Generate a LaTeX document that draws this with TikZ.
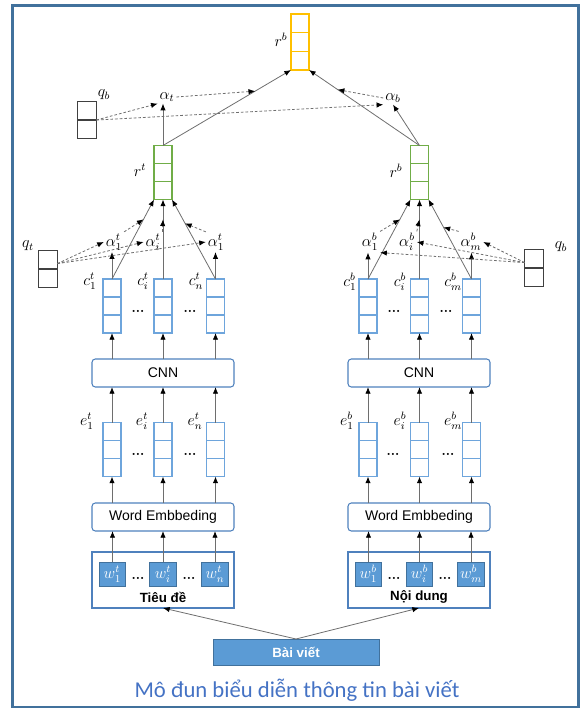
\documentclass[tikz,border=0pt]{standalone}
\usepackage{amsmath}
\usepackage{fontspec}
\setsansfont{Liberation Sans}
\newfontfamily\capfont{Carlito}
\usetikzlibrary{arrows.meta,calc}

\definecolor{framecol}{RGB}{65,113,156}
\definecolor{layerblue}{RGB}{79,129,189}
\definecolor{vecblue}{RGB}{110,165,220}
\definecolor{wfill}{RGB}{91,155,213}
\definecolor{wedge}{RGB}{65,113,156}
\definecolor{grncol}{RGB}{112,173,71}
\definecolor{yelcol}{RGB}{255,192,0}
\definecolor{qgray}{RGB}{64,64,64}
\definecolor{linegray}{RGB}{110,110,110}
\definecolor{capblue}{RGB}{68,114,196}

\begin{document}
\begin{tikzpicture}[x=0.75pt, y=-0.75pt,
    every node/.style={inner sep=0pt, outer sep=0pt},
    vecbox/.style={draw=#1, line width=0.8pt, minimum width=13.5pt, minimum height=40.5pt,
        path picture={
            \draw[#1, line width=0.8pt]
              ($(path picture bounding box.north west)!1/3!(path picture bounding box.south west)$) --
              ($(path picture bounding box.north east)!1/3!(path picture bounding box.south east)$)
              ($(path picture bounding box.north west)!2/3!(path picture bounding box.south west)$) --
              ($(path picture bounding box.north east)!2/3!(path picture bounding box.south east)$);}},
    qbox/.style={draw=qgray, line width=0.8pt, minimum width=14pt, minimum height=27.75pt,
        path picture={\draw[qgray, line width=0.8pt] (path picture bounding box.west) -- (path picture bounding box.east);}},
    layer/.style={draw=layerblue, line width=0.8pt, rounded corners=2.5pt, minimum width=106.5pt,
        minimum height=21pt, font=\sffamily\fontsize{10.5}{12}\selectfont},
    wbox/.style={draw=wedge, fill=wfill, line width=0.6pt, minimum width=20pt, minimum height=18pt,
        text=white, font=\large},
    lbl/.style={inner sep=1.5pt, font=\large},
    ellip/.style={font=\bfseries},
    arr/.style={draw=linegray, line width=0.6pt, -{Latex[length=5pt,width=4pt,color=black]}},
    att/.style={arr, dash pattern=on 2pt off 1.5pt}
]
\useasboundingbox (0,0) rectangle (580,709);
\draw[framecol, line width=1.6pt] (12.5,5.5) rectangle (578.5,707);

% output vector and article attention
\node[vecbox=yelcol, minimum height=42pt] (rtop) at (300,42) {};
\node[lbl] (rtoplbl) at (281,40) {$r^b$};
\node[qbox] (qbtop) at (87,120) {};
\node[lbl] (qbtoplbl) at (104,95) {$q_b$};
\node[lbl] (at) at (167,97) {$\alpha_t$};
\node[lbl] (ab) at (393,98) {$\alpha_b$};

\node[vecbox=grncol] (rt) at (163,172.5) {};
\node[lbl] (rtlbl) at (140,170) {$r^t$};
\node[vecbox=grncol] (rb) at (419.5,172.5) {};
\node[lbl] (rblbl) at (396,171) {$r^b$};

\draw[arr] (rt.north) -- coordinate[pos=.72] (htl) (rtop.south west);
\draw[arr] (rb.north) -- coordinate[pos=.74] (htr) (rtop.south east);
\draw[arr] (rt.north) -- (rt.north |- at.south);
\draw[arr] (rb.north) -- (ab.south);
\draw[att] (qbtop.east) -- (at.south west);
\draw[att] (qbtop.east) -- (ab.south west);
\draw[att] (at.east) -- (htl);
\draw[att] (ab.west) -- (htr);

% title side
\node[qbox] (qt) at (48,269) {};
\node[lbl] (qtlbl) at (28,246) {$q_t$};
\node[lbl] (a1t) at (114,242) {$\alpha_1^t$};
\node[lbl] (ait) at (153,242) {$\alpha_i^t$};
\node[lbl] (ant) at (216,242) {$\alpha_1^t$};

\node[vecbox=vecblue] (c1t) at (112,306) {};
\node[vecbox=vecblue] (cit) at (163,306) {};
\node[vecbox=vecblue] (cnt) at (215.5,306) {};
\node[lbl] (c1tlbl) at (90,281) {$c_1^t$};
\node[lbl] (citlbl) at (143,281) {$c_i^t$};
\node[lbl] (cntlbl) at (196,281) {$c_n^t$};
\node[ellip] (d1t) at (138,311) {...};
\node[ellip] (d2t) at (190,311) {...};

\draw[arr] (c1t.north) -- coordinate[pos=.75] (h1t) (rt.south west);
\draw[arr] (cit.north) -- coordinate[pos=.75] (hit) (rt.south);
\draw[arr] (cnt.north) -- coordinate[pos=.7] (hnt) (rt.south east);
\draw[arr] (c1t.north) -- (c1t.north |- a1t.south);
\draw[arr] (cnt.north) -- (cnt.north |- ant.south);
\draw[att] (qt.30) -- (a1t.west);
\draw[att] (qt.30) -- (ait.west);
\draw[att] (qt.30) -- (ant.west);
\draw[att] (a1t.north east) -- (h1t);
\draw[att] (ait.north east) -- (hit);
\draw[att] (ant.north west) -- (hnt);

\node[layer] (cnnt) at (163,373) {CNN};
\node[vecbox=vecblue] (e1t) at (112,449.5) {};
\node[vecbox=vecblue] (eit) at (163,449.5) {};
\node[vecbox=vecblue] (ent) at (215.5,449.5) {};
\node[lbl] (e1tlbl) at (87,421) {$e_1^t$};
\node[lbl] (eitlbl) at (142,421) {$e_i^t$};
\node[lbl] (entlbl) at (195,421) {$e_n^t$};
\node[ellip] (d3t) at (138,454) {...};
\node[ellip] (d4t) at (190,454) {...};
\node[layer] (wet) at (163,517) {Word Embbeding};

\draw[arr] (cnnt.north -| c1t.south) -- (c1t.south);
\draw[arr] (cnnt.north -| cit.south) -- (cit.south);
\draw[arr] (cnnt.north -| cnt.south) -- (cnt.south);
\draw[arr] (e1t.north) -- (e1t.north |- cnnt.south);
\draw[arr] (eit.north) -- (eit.north |- cnnt.south);
\draw[arr] (ent.north) -- (ent.north |- cnnt.south);
\draw[arr] (wet.north -| e1t.south) -- (e1t.south);
\draw[arr] (wet.north -| eit.south) -- (eit.south);
\draw[arr] (wet.north -| ent.south) -- (ent.south);

\node[draw=layerblue, line width=0.8pt, minimum width=106.5pt, minimum height=42pt] (tieude) at (163,580) {};
\node[wbox] (w1t) at (112.5,574) {$w_1^t$};
\node[wbox] (wit) at (163,574) {$w_i^t$};
\node[wbox] (wnt) at (215,574) {$w_n^t$};
\node[ellip] (d5t) at (138,578) {...};
\node[ellip] (d6t) at (189,578) {...};
\node[font=\sffamily\bfseries] (tieudelbl) at (163,597) {Tiêu đề};
\draw[arr] (w1t.north) -- (w1t.north |- wet.south);
\draw[arr] (wit.north) -- (wit.north |- wet.south);
\draw[arr] (wnt.north) -- (wnt.north |- wet.south);

% content side
\node[qbox] (qb) at (534,268) {};
\node[lbl] (qblbl) at (561,247) {$q_b$};
\node[lbl] (a1b) at (370,242) {$\alpha_1^b$};
\node[lbl] (aib) at (407,242) {$\alpha_i^b$};
\node[lbl] (amb) at (471,242) {$\alpha_m^b$};

\node[vecbox=vecblue] (c1b) at (368,306) {};
\node[vecbox=vecblue] (cib) at (419.5,306) {};
\node[vecbox=vecblue] (cmb) at (471.5,306) {};
\node[lbl] (c1blbl) at (350,282) {$c_1^b$};
\node[lbl] (ciblbl) at (400,282) {$c_i^b$};
\node[lbl] (cmblbl) at (453,282) {$c_m^b$};
\node[ellip] (d1b) at (394,311) {...};
\node[ellip] (d2b) at (446,311) {...};

\draw[arr] (c1b.north) -- coordinate[pos=.75] (h1b) (rb.south west);
\draw[arr] (cib.north) -- coordinate[pos=.75] (hib) (rb.south);
\draw[arr] (cmb.north) -- coordinate[pos=.65] (hmb) (rb.south east);
\draw[arr] (c1b.north) -- (c1b.north |- a1b.south);
\draw[arr] (cmb.north) -- (cmb.north |- amb.south);
\draw[att] (qb.150) -- (a1b.south east);
\draw[att] (qb.150) -- (aib.east);
\draw[att] (qb.150) -- (amb.east);
\draw[att] (a1b.north east) -- (h1b);
\draw[att] (aib.north east) -- (hib);
\draw[att] (amb.north west) -- (hmb);

\node[layer] (cnnb) at (419,373) {CNN};
\node[vecbox=vecblue] (e1b) at (368,449.5) {};
\node[vecbox=vecblue] (eib) at (419.5,449.5) {};
\node[vecbox=vecblue] (emb) at (471.5,449.5) {};
\node[lbl] (e1blbl) at (347,421) {$e_1^b$};
\node[lbl] (eiblbl) at (400,421) {$e_i^b$};
\node[lbl] (emblbl) at (453,421) {$e_m^b$};
\node[ellip] (d3b) at (393,454) {...};
\node[ellip] (d4b) at (448,454) {...};
\node[layer] (web) at (419,517) {Word Embbeding};

\draw[arr] (cnnb.north -| c1b.south) -- (c1b.south);
\draw[arr] (cnnb.north -| cib.south) -- (cib.south);
\draw[arr] (cnnb.north -| cmb.south) -- (cmb.south);
\draw[arr] (e1b.north) -- (e1b.north |- cnnb.south);
\draw[arr] (eib.north) -- (eib.north |- cnnb.south);
\draw[arr] (emb.north) -- (emb.north |- cnnb.south);
\draw[arr] (web.north -| e1b.south) -- (e1b.south);
\draw[arr] (web.north -| eib.south) -- (eib.south);
\draw[arr] (web.north -| emb.south) -- (emb.south);

\node[draw=layerblue, line width=0.8pt, minimum width=106.5pt, minimum height=42pt] (noidung) at (419,580) {};
\node[wbox] (w1b) at (368.5,574) {$w_1^b$};
\node[wbox] (wib) at (419.5,574) {$w_i^b$};
\node[wbox] (wmb) at (471,574) {$w_m^b$};
\node[ellip] (d5b) at (394,578) {...};
\node[ellip] (d6b) at (445,578) {...};
\node[font=\sffamily\bfseries] (noidunglbl) at (419,597) {Nội dung};
\draw[arr] (w1b.north) -- (w1b.north |- web.south);
\draw[arr] (wib.north) -- (wib.north |- web.south);
\draw[arr] (wmb.north) -- (wmb.north |- web.south);

% article
\node[draw=wedge, fill=wfill, line width=0.6pt, minimum width=124.5pt, minimum height=19.5pt,
    text=white, font=\sffamily\bfseries] (baiviet) at (296,652) {Bài viết};
\draw[arr] (baiviet.north) -- (tieude.south);
\draw[arr] (baiviet.north) -- (noidung.south);

\node[font=\capfont\fontsize{17}{20}\selectfont, text=capblue] (caption) at (297,690) {Mô đun biểu diễn thông tin bài viết};
\end{tikzpicture}
\end{document}
